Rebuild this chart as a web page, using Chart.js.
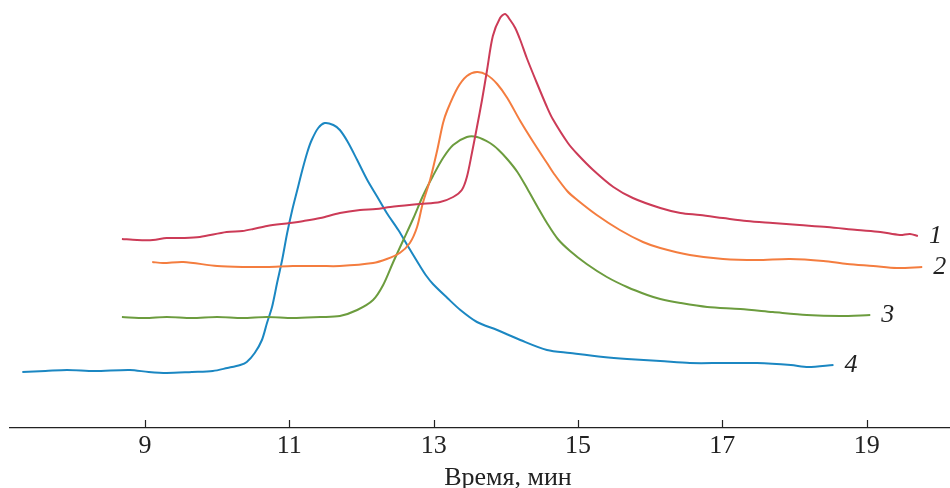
<!DOCTYPE html>
<html>
<head>
<meta charset="utf-8">
<script src="https://cdn.jsdelivr.net/npm/chart.js@4"></script>
<style>
  html, body { margin: 0; padding: 0; background: #fff; }
  #wrap { width: 950px; height: 488px; }
</style>
</head>
<body>
<div id="wrap"><canvas id="chromChart"></canvas></div>
<script>
// ── Data (time in min, detector signal in arbitrary units) ───────────────────
const xTicks = [9, 11, 13, 15, 17, 19];
const seriesLabels = ['1', '2', '3', '4'];
const seriesColors = ['#cc3b57', '#f47d3f', '#6c9c3e', '#1b87c2'];
const axisTitle = 'Время, мин';

const t1 = [8.68, 8.89, 9.11, 9.30, 9.55, 9.76, 10.13, 10.35, 10.50, 10.69, 11.01, 11.20, 11.43, 11.70, 11.98, 12.20, 12.40, 12.81, 13.09, 13.27, 13.39, 13.46, 13.53, 13.60, 13.67, 13.74, 13.82, 13.92, 13.99, 14.06, 14.13, 14.20, 14.29, 14.43, 14.57, 14.65, 14.86, 14.99, 15.21, 15.49, 15.76, 16.14, 16.42, 16.69, 17.01, 17.34, 17.70, 18.07, 18.45, 18.87, 19.19, 19.46, 19.60, 19.71];
const s1 = [189, 188, 188, 190, 190, 191, 196, 197, 199, 202, 205, 207, 210, 215, 218, 219, 221, 224, 226, 231, 238, 251, 275, 301, 328, 358, 392, 410, 414, 408, 400, 388, 370, 345, 321, 309, 285, 274, 258, 241, 230, 220, 215, 213, 210, 207, 205, 203, 201, 198, 196, 193, 194, 192];

const t2 = [9.10, 9.25, 9.53, 10.00, 10.40, 10.69, 11.05, 11.43, 11.70, 12.16, 12.35, 12.53, 12.67, 12.77, 12.85, 12.95, 13.05, 13.13, 13.19, 13.33, 13.46, 13.60, 13.74, 13.88, 14.02, 14.20, 14.38, 14.57, 14.66, 14.85, 14.99, 15.26, 15.58, 15.90, 16.14, 16.55, 17.01, 17.48, 17.94, 18.40, 18.73, 19.09, 19.42, 19.77];
const s2 = [166, 165, 166, 162, 161, 161, 162, 162, 162, 165, 169, 175, 185, 201, 225, 248, 278, 305, 318, 340, 352, 356, 353, 344, 330, 307, 286, 265, 255, 237, 228, 213, 198, 186, 180, 173, 169, 168, 169, 167, 164, 162, 160, 161];

const t3 = [8.68, 9.00, 9.30, 9.65, 10.00, 10.35, 10.69, 11.05, 11.43, 11.70, 11.94, 12.16, 12.30, 12.44, 12.58, 12.72, 12.85, 12.99, 13.13, 13.27, 13.46, 13.60, 13.78, 13.90, 14.03, 14.16, 14.30, 14.44, 14.57, 14.72, 14.89, 15.12, 15.40, 15.68, 15.96, 16.14, 16.42, 16.79, 17.25, 17.70, 18.17, 18.63, 19.05];
const s3 = [111, 110, 111, 110, 111, 110, 111, 110, 111, 112, 118, 128, 143, 166, 188, 210, 232, 252, 270, 283, 291, 291, 285, 278, 268, 256, 239, 221, 205, 189, 177, 164, 151, 141, 133, 129, 125, 121, 119, 116, 113, 112, 113];

const t4 = [7.30, 7.62, 7.92, 8.30, 8.79, 9.05, 9.30, 9.65, 9.94, 10.14, 10.32, 10.41, 10.52, 10.62, 10.69, 10.76, 10.83, 10.90, 10.97, 11.04, 11.11, 11.18, 11.25, 11.31, 11.40, 11.49, 11.61, 11.70, 11.81, 11.94, 12.08, 12.22, 12.35, 12.51, 12.65, 12.81, 12.90, 12.99, 13.19, 13.37, 13.60, 13.88, 14.20, 14.57, 14.89, 15.35, 15.68, 16.14, 16.55, 17.01, 17.48, 17.95, 18.19, 18.54];
const s4 = [56, 57, 58, 57, 58, 56, 55, 56, 57, 60, 63, 66, 75, 88, 105, 121, 145, 168, 195, 218, 238, 258, 276, 288, 300, 305, 303, 298, 286, 268, 248, 231, 215, 198, 181, 162, 152, 144, 130, 118, 106, 98, 88, 78, 75, 71, 69, 67, 65, 65, 65, 63, 61, 63];

const seriesT = [t1, t2, t3, t4];
const seriesS = [s1, s2, s3, s4];

// ── Plugin: inward tick marks, curve numbers, axis title ─────────────────────
const decorPlugin = {
    id: 'decor',
    afterDraw(chart) {
        const ctx = chart.ctx;
        const xs = chart.scales.x;
        const bottom = chart.chartArea.bottom;
        ctx.save();
        ctx.strokeStyle = '#222';
        ctx.lineWidth = 1.2;
        xTicks.forEach(v => {
            const px = Math.round(xs.getPixelForValue(v)) + 0.5;
            ctx.beginPath();
            ctx.moveTo(px, bottom);
            ctx.lineTo(px, bottom - 8);
            ctx.stroke();
        });

        ctx.fillStyle = '#222';
        ctx.font = 'italic 26px "Liberation Serif", "DejaVu Serif", serif';
        ctx.textAlign = 'left';
        ctx.textBaseline = 'middle';
        chart.data.datasets.forEach((ds, i) => {
            const meta = chart.getDatasetMeta(i);
            const last = meta.data[meta.data.length - 1];
            ctx.fillText(seriesLabels[i], last.x + 11, last.y);
        });

        ctx.font = '26px "Liberation Serif", "DejaVu Serif", serif';
        ctx.textAlign = 'center';
        ctx.textBaseline = 'alphabetic';
        ctx.fillText(axisTitle, xs.getPixelForValue(14.03), 485);
        ctx.restore();
    }
};

new Chart(document.getElementById('chromChart').getContext('2d'), {
    type: 'line',
    data: {
        datasets: seriesT.map((t, i) => ({
            label: seriesLabels[i],
            data: t.map((x, j) => ({ x: x, y: seriesS[i][j] })),
            borderColor: seriesColors[i],
            borderWidth: 2,
            pointRadius: 0,
            tension: 0.3,
            fill: false
        }))
    },
    options: {
        responsive: true,
        maintainAspectRatio: false,
        animation: false,
        layout: { padding: { left: 10, right: 0, top: 0, bottom: 0 } },
        plugins: { legend: { display: false }, tooltip: { enabled: false } },
        scales: {
            x: {
                type: 'linear',
                position: 'bottom',
                min: 7.129,
                max: 20.155,
                afterBuildTicks: s => { s.ticks = xTicks.map(v => ({ value: v })); },
                afterFit: s => { s.height = 60; },
                grid: { display: false, drawTicks: false },
                border: { display: true, color: '#222', width: 1.3 },
                ticks: {
                    color: '#222',
                    padding: 3,
                    maxRotation: 0,
                    font: { family: '"Liberation Serif", "DejaVu Serif", serif', size: 26 }
                }
            },
            y: {
                type: 'linear',
                display: false,
                min: 0,
                max: 428
            }
        }
    },
    plugins: [decorPlugin]
});
</script>
</body>
</html>
